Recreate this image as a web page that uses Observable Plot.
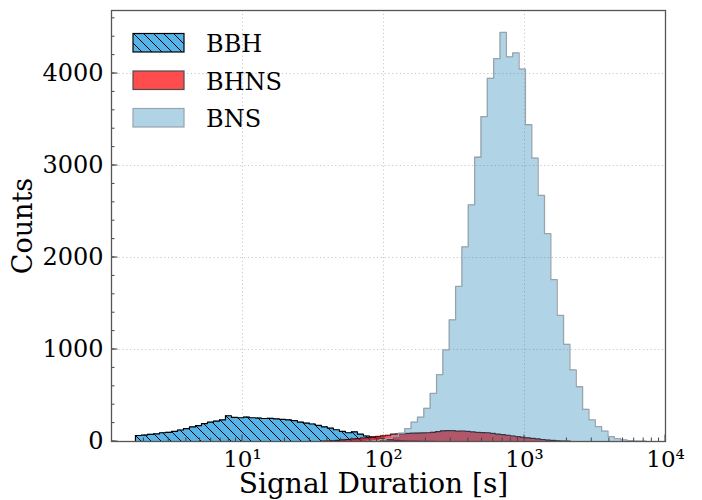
<!DOCTYPE html>
<html><head><meta charset="utf-8">
<script src="https://cdn.jsdelivr.net/npm/d3@7"></script>
<script src="https://cdn.jsdelivr.net/npm/@observablehq/plot@0.6"></script>
<style>body{margin:0;background:#fff} #chart{width:702px;height:500px}</style>
</head><body><div id="chart"></div>
<script>
// ---- data (log10 of bin start, log10 bin width, counts per bin) ----
const bbhStartLog = 0.241, bbhBinLog = 0.04255;
const bbhCounts = [65,70,78,82,95,100,110,125,140,158,172,195,210,222,235,280,262,258,265,258,
  255,250,252,245,240,236,228,210,200,190,175,160,145,128,110,95,105,80,60,48,
  38,30,20,12,8,5,3,2,1,1];
const bhnsStartLog = 1.5532, bhnsBinLog = 0.03546;
const bhnsCounts = [3,5,8,12,18,22,28,32,38,42,48,55,62,68,80,83,85,88,91,92,
  93,95,100,108,116,119,118,112,114,110,104,99,97,95,88,80,75,68,60,52,
  45,40,33,28,22,16,12,8,5,3];
const bnsStartLog = 1.8807, bnsBinLog = 0.04504;
const bnsCounts = [5,10,20,35,60,90,141,210,264,361,523,728,995,1323,1686,2116,2573,3090,3532,3948,
  4162,4447,4181,4224,4048,3443,3081,2675,2259,1759,1370,1056,778,595,350,235,162,112,54,32,
  18,10,5,3];
const seriesNames = ["BBH","BHNS","BNS"];
const xTicks = [10,100,1000,10000];
const xTickLabels = ["10¹","10²","10³","10⁴"];
const xMinor = [2,3,4,5,6,7,8,9,20,30,40,50,60,70,80,90,200,300,400,500,600,700,800,900,2000,3000,4000,5000,6000,7000,8000,9000];
const yTicks = [0,1000,2000,3000,4000];
const yMinor = d3.range(0, 4601, 200);
const xLabel = "Signal Duration [s]";
const yLabel = "Counts";

function steps(startLog, binLog, counts) {
  const e = i => Math.pow(10, startLog + i * binLog);
  const pts = [{x: e(0), y: 0}];
  counts.forEach((c, i) => { pts.push({x: e(i), y: c}, {x: e(i + 1), y: c}); });
  pts.push({x: e(counts.length), y: 0});
  return pts;
}
const bbh = steps(bbhStartLog, bbhBinLog, bbhCounts);
const bhns = steps(bhnsStartLog, bhnsBinLog, bhnsCounts);
const bns = steps(bnsStartLog, bnsBinLog, bnsCounts);

const xLabelMap = new Map(xTicks.map((t, i) => [t, xTickLabels[i]]));

function tickMarks(xs, ys, len) {
  return (index, scales, values, dims) => {
    const g = d3.create("svg:g").attr("stroke", "#444").attr("stroke-width", 1);
    const bottom = dims.height - dims.marginBottom, left = dims.marginLeft;
    for (const v of xs) { const p = scales.x(v); g.append("line").attr("x1", p).attr("x2", p).attr("y1", bottom).attr("y2", bottom - len); }
    for (const v of ys) { const p = scales.y(v); g.append("line").attr("x1", left).attr("x2", left + len).attr("y1", p).attr("y2", p); }
    return g.node();
  };
}

const chart = Plot.plot({
  width: 702, height: 500,
  marginLeft: 111, marginRight: 37, marginTop: 10, marginBottom: 59,
  x: {type: "log", domain: [Math.pow(10, 0.071), 1e4]},
  y: {domain: [0, 4685]},
  style: {fontFamily: "DejaVu Serif", background: "white", color: "black"},
  marks: [
    Plot.gridX(xTicks.slice(0, 3), {stroke: "#c8c8c8", strokeOpacity: 1, strokeDasharray: "1.2,2.6"}),
    Plot.gridY(yTicks.slice(1), {stroke: "#c8c8c8", strokeOpacity: 1, strokeDasharray: "1.2,2.6"}),
    Plot.area(bbh, {x1: "x", y1: 0, y2: "y", fill: "url(#bbhHatch)"}),
    Plot.line(bbh, {x: "x", y: "y", stroke: "black", strokeWidth: 1.2}),
    Plot.area(bhns, {x1: "x", y1: 0, y2: "y", fill: "red", fillOpacity: 0.7}),
    Plot.line(bhns, {x: "x", y: "y", stroke: "black", strokeOpacity: 0.7, strokeWidth: 1.2}),
    Plot.area(bns, {x1: "x", y1: 0, y2: "y", fill: "#0074ae", fillOpacity: 0.31}),
    Plot.line(bns, {x: "x", y: "y", stroke: "#98a4ac", strokeWidth: 1.3}),
    tickMarks(xTicks, yTicks, 6.5),
    tickMarks(xMinor, yMinor, 3.5),
    Plot.frame({stroke: "#555", strokeWidth: 1.3}),
    Plot.axisX(xTicks, {tickSize: 0, tickPadding: 9, fontSize: 23, label: null, tickFormat: d => xLabelMap.get(d)}),
    Plot.axisY(yTicks, {tickSize: 0, tickPadding: 8, fontSize: 24, label: null, tickFormat: d => String(d)}),
    Plot.text([xLabel], {frameAnchor: "bottom", lineAnchor: "bottom", textAnchor: "middle", dx: -15, dy: 51, fontSize: 28, fill: "black"}),
    Plot.text([yLabel], {frameAnchor: "left", textAnchor: "middle", lineAnchor: "middle", dx: -88, rotate: -90, fontSize: 27, fill: "black"})
  ]
});

const svg = d3.select(chart);
const defs = svg.insert("defs", ":first-child");
const pat = defs.append("pattern").attr("id", "bbhHatch").attr("patternUnits", "userSpaceOnUse")
  .attr("width", 10).attr("height", 10);
pat.append("rect").attr("width", 10).attr("height", 10).attr("fill", "#56b4e9");
pat.append("path").attr("d", "M-2.5,7.5L2.5,12.5M0,0L10,10M7.5,-2.5L12.5,2.5")
  .attr("stroke", "black").attr("stroke-width", 1);

// legend
const leg = svg.append("g").attr("font-family", "DejaVu Serif").attr("font-size", 24).attr("text-anchor", "start");
const legendStyles = [
  {fill: "url(#bbhHatch)", stroke: "black"},
  {fill: "rgb(255,77,77)", stroke: "rgb(77,77,77)"},
  {fill: "rgb(176,212,230)", stroke: "#98a4ac"}
];
seriesNames.forEach((name, i) => {
  const y0 = 33.5 + i * 37.5;
  leg.append("rect").attr("x", 133).attr("y", y0).attr("width", 51).attr("height", 18.5)
    .attr("fill", legendStyles[i].fill).attr("stroke", legendStyles[i].stroke).attr("stroke-width", 1.2);
  leg.append("text").attr("x", 206).attr("y", y0 + 18.5).attr("fill", "black").attr("text-anchor", "start").text(name);
});

document.getElementById("chart").appendChild(chart);
</script>
</body></html>
